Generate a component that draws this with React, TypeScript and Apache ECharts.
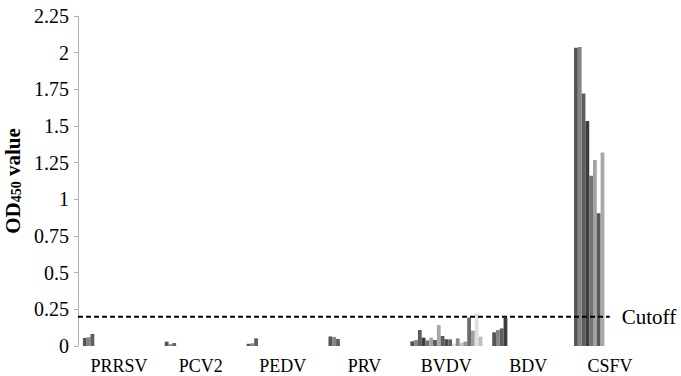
import React, { useEffect, useRef } from "react";
import * as echarts from "echarts";

const categories = ["PRRSV", "PCV2", "PEDV", "PRV", "BVDV", "BDV", "CSFV"];

// OD450 values per virus (one value per sample bar)
const prrsv = [0.055, 0.06, 0.082];
const pcv2 = [0.03, 0.012, 0.02];
const pedv = [0.015, 0.018, 0.052];
const prv = [0.065, 0.062, 0.048];
const bvdv = [0.032, 0.04, 0.109, 0.057, 0.038, 0.057, 0.041, 0.143, 0.068, 0.046, 0.045, 0.016, 0.052, 0.022, 0.03, 0.194, 0.105, 0.225, 0.064];
const bdv = [0.093, 0.109, 0.12, 0.193];
const csfv = [2.034, 2.038, 1.722, 1.534, 1.161, 1.268, 0.905, 1.32];

const valuesByCategory = [prrsv, pcv2, pedv, prv, bvdv, bdv, csfv];

const cutoff = 0.2;
const cutoffLabel = "Cutoff";

const yTicks = { min: 0, max: 2.25, interval: 0.25 };

const sampleColors = [
  "#555555", "#858585", "#5e5e5e", "#3c3c3c", "#727272", "#a3a3a3", "#585858",
  "#a8a8a8", "#5a5a5a", "#4a4a4a", "#606060", "#dcdcdc", "#8a8a8a", "#c0c0c0",
  "#9a9a9a", "#6b6b6b", "#a0a0a0", "#e0e0e0", "#bdbdbd",
];

const FONT = "Liberation Serif";

export default function App() {
  const ref = useRef<HTMLDivElement>(null);

  useEffect(() => {
    if (!ref.current) return;
    const chart = echarts.init(ref.current, null, { renderer: "svg" });
    const nSeries = Math.max(...valuesByCategory.map((v) => v.length));
    const barSeries = Array.from({ length: nSeries }, (_, i) => ({
      type: "bar",
      name: "S" + (i + 1),
      xAxisIndex: 0,
      yAxisIndex: 0,
      barGap: "0%",
      barCategoryGap: "12%",
      itemStyle: { color: sampleColors[i % sampleColors.length] },
      data: valuesByCategory.map((vals) => (i < vals.length ? vals[i] : null)),
    }));

    chart.setOption({
      animation: false,
      backgroundColor: "#ffffff",
      textStyle: { fontFamily: FONT },
      grid: {
        left: 78,
        right: 30,
        top: 16,
        bottom: 30,
        containLabel: false,
        outerBoundsMode: "none",
      },
      xAxis: [
        {
          type: "category",
          data: categories,
          axisLine: { show: false },
          axisTick: { show: false },
          axisLabel: {
            color: "#000",
            fontFamily: FONT,
            fontSize: 18,
            margin: 11,
          },
        },
        {
          type: "value",
          min: 0,
          max: 1,
          show: false,
        },
      ],
      yAxis: {
        type: "value",
        min: yTicks.min,
        max: yTicks.max,
        interval: yTicks.interval,
        splitLine: { show: false },
        axisLine: { show: true, lineStyle: { color: "#b0b0b0", width: 1 } },
        axisTick: { show: true, length: 4, lineStyle: { color: "#b0b0b0" } },
        axisLabel: {
          color: "#000",
          fontFamily: FONT,
          fontSize: 20,
          margin: 9,
        },
        name: "{a|OD}{s|450}{a| value}",
        nameLocation: "middle",
        nameRotate: 90,
        nameGap: 55,
        nameTextStyle: {
          fontFamily: FONT,
          rich: {
            a: { fontFamily: FONT, fontSize: 21, fontWeight: "bold", color: "#000" },
            s: {
              fontFamily: FONT,
              fontSize: 14,
              fontWeight: "bold",
              color: "#000",
              verticalAlign: "bottom",
              padding: [5, 0, 0, 0],
            },
          },
        },
      },
      series: [
        ...barSeries,
        {
          type: "line",
          name: cutoffLabel,
          xAxisIndex: 1,
          yAxisIndex: 0,
          symbol: "none",
          lineStyle: { color: "#000", width: 2, type: [5, 3] },
          data: [
            [0, cutoff],
            [0.928, cutoff],
          ],
          endLabel: {
            show: true,
            formatter: cutoffLabel,
            color: "#000",
            fontFamily: FONT,
            fontSize: 21,
            distance: 12,
          },
        },
      ],
    });
    return () => chart.dispose();
  }, []);

  return (
    <div
      ref={ref}
      style={{ position: "fixed", left: 0, top: 0, width: 681, height: 376 }}
    />
  );
}
